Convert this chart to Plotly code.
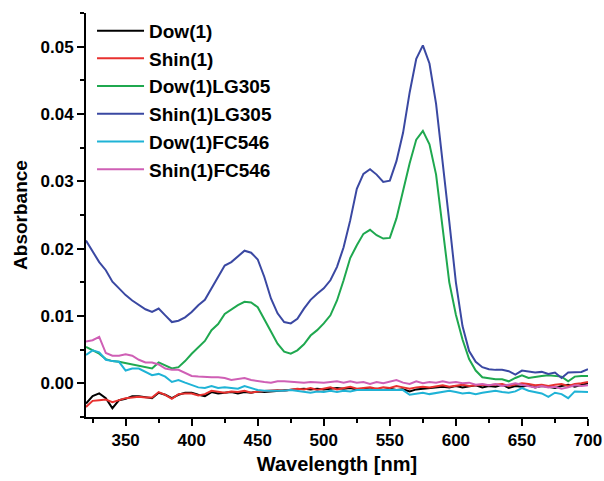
import plotly.graph_objects as go

# Wavelength grid (nm), 5 nm steps
wavelength = list(range(320, 705, 5))

dow1 = [-0.0030, -0.0019, -0.0015, -0.0022, -0.0037, -0.0025, -0.0023, -0.0019, -0.0019, -0.0021,
        -0.0022, -0.0014, -0.0017, -0.0022, -0.0017, -0.0014, -0.0014, -0.0017, -0.0019, -0.0013,
        -0.0015, -0.0014, -0.0013, -0.0015, -0.0013, -0.0014, -0.0012, -0.0013, -0.0012, -0.0011,
        -0.0011, -0.0010, -0.0009, -0.0008, -0.0009, -0.0008, -0.0009, -0.0008, -0.0007, -0.0008,
        -0.0007, -0.0009, -0.0008, -0.0009, -0.0008, -0.0010, -0.0008, -0.0010, -0.0009, -0.0012,
        -0.0009, -0.0008, -0.0007, -0.0006, -0.0005, -0.0006, -0.0004, -0.0006, -0.0005, -0.0003,
        -0.0006, -0.0004, -0.0005, -0.0002, -0.0007, -0.0004, -0.0005, -0.0003, -0.0006, -0.0004,
        -0.0005, -0.0007, -0.0004, -0.0002, -0.0005, -0.0003, 0.0000]

shin1 = [-0.0035, -0.0026, -0.0025, -0.0024, -0.0028, -0.0025, -0.0022, -0.0021, -0.0020, -0.0021,
         -0.0021, -0.0013, -0.0017, -0.0023, -0.0016, -0.0015, -0.0015, -0.0018, -0.0016, -0.0011,
         -0.0013, -0.0014, -0.0012, -0.0013, -0.0011, -0.0014, -0.0012, -0.0011, -0.0011, -0.0010,
         -0.0011, -0.0010, -0.0008, -0.0009, -0.0007, -0.0010, -0.0008, -0.0006, -0.0009, -0.0007,
         -0.0005, -0.0008, -0.0007, -0.0006, -0.0008, -0.0006, -0.0007, -0.0004, -0.0006, -0.0008,
         -0.0006, -0.0005, -0.0006, -0.0004, -0.0003, -0.0005, -0.0003, -0.0002, -0.0004, -0.0003,
         -0.0002, -0.0003, -0.0002, -0.0001, -0.0004, -0.0002, 0.0000, -0.0001, -0.0003, -0.0002,
         -0.0004, -0.0002, -0.0001, -0.0004, -0.0001, 0.0000, 0.0002]

dow1_lg305 = [0.0054, 0.0049, 0.0044, 0.0036, 0.0033, 0.0032, 0.0030, 0.0028, 0.0026, 0.0025,
              0.0022, 0.0031, 0.0027, 0.0022, 0.0024, 0.0033, 0.0044, 0.0053, 0.0063, 0.0079,
              0.0088, 0.0103, 0.0110, 0.0116, 0.0121, 0.0120, 0.0113, 0.0096, 0.0077, 0.0059,
              0.0047, 0.0044, 0.0049, 0.0058, 0.0071, 0.0079, 0.0089, 0.0101, 0.0123, 0.0153,
              0.0186, 0.0205, 0.0222, 0.0228, 0.0220, 0.0215, 0.0216, 0.0245, 0.0287, 0.0327,
              0.0362, 0.0375, 0.0355, 0.0310, 0.0230, 0.0150, 0.0102, 0.0065, 0.0036, 0.0019,
              0.0009, 0.0007, 0.0006, 0.0006, 0.0003, 0.0008, 0.0012, 0.0008, 0.0010, 0.0011,
              0.0012, 0.0011, 0.0010, 0.0003, 0.0010, 0.0011, 0.0011]

shin1_lg305 = [0.0212, 0.0196, 0.0180, 0.0168, 0.0151, 0.0141, 0.0131, 0.0123, 0.0116, 0.0110,
               0.0106, 0.0111, 0.0101, 0.0091, 0.0093, 0.0098, 0.0106, 0.0116, 0.0124, 0.0141,
               0.0160, 0.0175, 0.0180, 0.0189, 0.0197, 0.0194, 0.0184, 0.0158, 0.0126, 0.0104,
               0.0091, 0.0089, 0.0096, 0.0111, 0.0124, 0.0133, 0.0141, 0.0153, 0.0173, 0.0202,
               0.0242, 0.0289, 0.0311, 0.0318, 0.0310, 0.0299, 0.0301, 0.0330, 0.0372, 0.0432,
               0.0482, 0.0502, 0.0475, 0.0415, 0.0330, 0.0240, 0.0150, 0.0085, 0.0048, 0.0032,
               0.0024, 0.0021, 0.0020, 0.0020, 0.0018, 0.0013, 0.0019, 0.0017, 0.0016, 0.0017,
               0.0014, 0.0016, 0.0008, 0.0016, 0.0016, 0.0017, 0.0021]

dow1_fc546 = [0.0042, 0.0049, 0.0046, 0.0035, 0.0033, 0.0032, 0.0019, 0.0022, 0.0022, 0.0017,
              0.0012, 0.0014, 0.0010, 0.0002, 0.0005, 0.0001, -0.0003, -0.0006, -0.0007, -0.0004,
              -0.0007, -0.0006, -0.0007, -0.0008, -0.0004, -0.0007, -0.0010, -0.0011, -0.0011, -0.0012,
              -0.0011, -0.0010, -0.0011, -0.0012, -0.0014, -0.0012, -0.0013, -0.0011, -0.0013, -0.0011,
              -0.0012, -0.0010, -0.0010, -0.0011, -0.0010, -0.0011, -0.0010, -0.0011, -0.0010, -0.0017,
              -0.0016, -0.0014, -0.0016, -0.0014, -0.0012, -0.0011, -0.0013, -0.0015, -0.0014, -0.0016,
              -0.0014, -0.0013, -0.0011, -0.0013, -0.0014, -0.0012, -0.0007, -0.0011, -0.0013, -0.0015,
              -0.0020, -0.0014, -0.0016, -0.0022, -0.0012, -0.0013, -0.0013]

shin1_fc546 = [0.0062, 0.0064, 0.0069, 0.0045, 0.0041, 0.0041, 0.0043, 0.0041, 0.0035, 0.0031,
               0.0031, 0.0028, 0.0022, 0.0020, 0.0020, 0.0015, 0.0011, 0.0010, 0.0009, 0.0009,
               0.0009, 0.0008, 0.0005, 0.0006, 0.0008, 0.0005, 0.0003, 0.0002, 0.0001, 0.0003,
               0.0003, 0.0002, 0.0002, 0.0001, 0.0002, 0.0001, 0.0001, 0.0002, 0.0003, 0.0001,
               0.0003, 0.0001, 0.0002, -0.0001, 0.0002, 0.0000, 0.0002, 0.0005, 0.0001, -0.0001,
               0.0003, 0.0000, 0.0002, 0.0001, 0.0003, 0.0001, 0.0002, 0.0000, 0.0001, -0.0002,
               -0.0001, -0.0003, -0.0001, -0.0004, -0.0002, 0.0000, -0.0002, -0.0004, -0.0006, -0.0004,
               -0.0006, -0.0005, -0.0008, -0.0006, -0.0003, -0.0004, -0.0003]

series_names = ["Dow(1)", "Shin(1)", "Dow(1)LG305", "Shin(1)LG305", "Dow(1)FC546", "Shin(1)FC546"]
series_values = [dow1, shin1, dow1_lg305, shin1_lg305, dow1_fc546, shin1_fc546]
series_colors = ["#000000", "#e8312f", "#1fa84f", "#3a48a2", "#1fb3d6", "#cf5fb5"]

FONT = "Liberation Sans, Arial, sans-serif"

fig = go.Figure()
for name, vals, color in zip(series_names, series_values, series_colors):
    fig.add_trace(go.Scatter(
        x=wavelength, y=vals, mode="lines", name=name,
        line=dict(color=color, width=2),
    ))

fig.update_layout(
    width=604, height=481,
    margin=dict(l=86, r=16, t=13, b=64),
    paper_bgcolor="white", plot_bgcolor="white",
    showlegend=True,
    legend=dict(
        x=0.012, y=1.003, xanchor="left", yanchor="top",
        bgcolor="rgba(0,0,0,0)",
        itemwidth=47,
        font=dict(family=FONT, size=19, color="black", weight="bold"),
        tracegroupgap=0,
    ),
    xaxis=dict(
        range=[320, 700], dtick=50, tick0=0, automargin=False,
        showline=True, linecolor="black", linewidth=2,
        ticks="outside", ticklen=7, tickwidth=2, tickcolor="black",
        minor=dict(dtick=25, tick0=0, ticks="outside", ticklen=4, tickwidth=2, tickcolor="black"),
        showgrid=False, zeroline=False,
        tickfont=dict(family=FONT, size=17, color="black", weight="bold"),
        title=dict(text="Wavelength [nm]", standoff=8,
                   font=dict(family=FONT, size=20, color="black", weight="bold")),
    ),
    yaxis=dict(
        range=[-0.005, 0.055], dtick=0.01, tick0=0, tickformat=".2f", automargin=False,
        showline=True, linecolor="black", linewidth=2,
        ticks="outside", ticklen=7, tickwidth=2, tickcolor="black",
        minor=dict(dtick=0.005, tick0=0, ticks="outside", ticklen=4, tickwidth=2, tickcolor="black"),
        showgrid=False, zeroline=False,
        tickfont=dict(family=FONT, size=17, color="black", weight="bold"),
        title=dict(text="Absorbance", standoff=8,
                   font=dict(family=FONT, size=19, color="black", weight="bold")),
    ),
)

fig.write_html("out.html")
